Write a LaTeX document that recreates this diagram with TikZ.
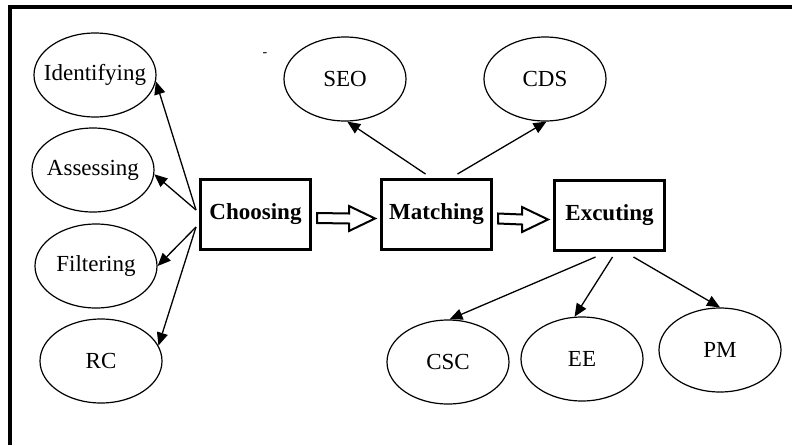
\documentclass[tikz,border=0pt]{standalone}
\usepackage{fontspec}
\setmainfont{Liberation Serif}
\usetikzlibrary{shapes.geometric,arrows.meta}

% zero-width label so the ellipse keeps its own size
\newcommand{\ctext}[1]{\makebox[0pt]{#1}}

% open block arrow from one stage box to the next
\newcommand{\hollowarrow}[2]{%
  \draw[hollow] ([xshift=2.5pt,yshift=0.5pt]#1.east)
    -- ([xshift=-15.5pt,yshift=0.5pt]#2.west)
    -- ([xshift=-15.5pt,yshift=4.25pt]#2.west)
    -- ([xshift=-2.5pt,yshift=-2pt]#2.west)
    -- ([xshift=-15.5pt,yshift=-8.25pt]#2.west)
    -- ([xshift=-15.5pt,yshift=-4.5pt]#2.west)
    -- ([xshift=2.5pt,yshift=-4.5pt]#1.east) -- cycle;}

\tikzset{
  bubble/.style={ellipse, draw, line width=0.6pt, minimum width=61pt, minimum height=42pt,
    inner sep=0pt, font=\fontsize{11.5}{13}\selectfont},
  stage/.style={rectangle, draw, line width=1.5pt, minimum width=55pt, minimum height=35pt,
    inner sep=0pt, font=\fontsize{11.5}{13}\selectfont\bfseries},
  link/.style={-{Triangle[length=6.5pt,width=5.5pt]}, line width=0.65pt},
  hollow/.style={draw, fill=white, line width=1pt, line join=miter}
}

\begin{document}
\begin{tikzpicture}[x=0.5pt,y=-0.5pt]
  \useasboundingbox (0,0) rectangle (792,445);
  % frame
  \draw[line width=2pt] (10,445) -- (10,7) -- (792,7);

  % stages
  \node[stage] (Choosing) at (255.5,214) {Choosing};
  \node[stage] (Matching) at (436.5,214.5) {Matching};
  \node[stage] (Excuting) at (609.5,215.5) {Excuting};
  \hollowarrow{Choosing}{Matching}
  \hollowarrow{Matching}{Excuting}

  % LEFT
  \node[bubble] (Identifying) at (95,75) {\ctext{Identifying}};
  \node[bubble] (Assessing) at (93,170) {\ctext{Assessing}};
  \node[bubble] (Filtering) at (96,266) {\ctext{Filtering}};
  \node[bubble] (RC) at (101,361) {\ctext{RC}};
  \draw[link] ([xshift=-1.5pt,yshift=2pt]Choosing.west) -- (Identifying.-6);
  \draw[link] ([xshift=-1.5pt,yshift=2pt]Choosing.west) -- (Assessing.-4);
  \draw[link] ([xshift=-1.5pt,yshift=-6.5pt]Choosing.west) -- (Filtering.east);
  \draw[link] ([xshift=-1.5pt,yshift=-6.5pt]Choosing.west) -- (RC.15);

  % TOP
  \node[font=\scriptsize] (hyph) at (265,55) {-};
  \node[bubble] (SEO) at (345,79) {\ctext{SEO}};
  \node[bubble] (CDS) at (545,79) {\ctext{CDS}};
  \draw[link] ([xshift=-5.5pt,yshift=2pt]Matching.north) -- (SEO.-87);
  \draw[link] ([xshift=10.5pt,yshift=2pt]Matching.north) -- (CDS.-88);

  % BOTTOM
  \node[bubble] (CSC) at (448,362) {\ctext{CSC}};
  \node[bubble] (EE) at (582,359) {\ctext{EE}};
  \node[bubble] (PM) at (720,350) {\ctext{PM}};
  \draw[link] ([xshift=-7pt,yshift=-2.5pt]Excuting.south) -- (CSC.88);
  \draw[link] ([xshift=1.5pt,yshift=-2.5pt]Excuting.south) -- (EE.100);
  \draw[link] ([xshift=12pt,yshift=-2.5pt]Excuting.south) -- (PM.north);
\end{tikzpicture}
\end{document}
